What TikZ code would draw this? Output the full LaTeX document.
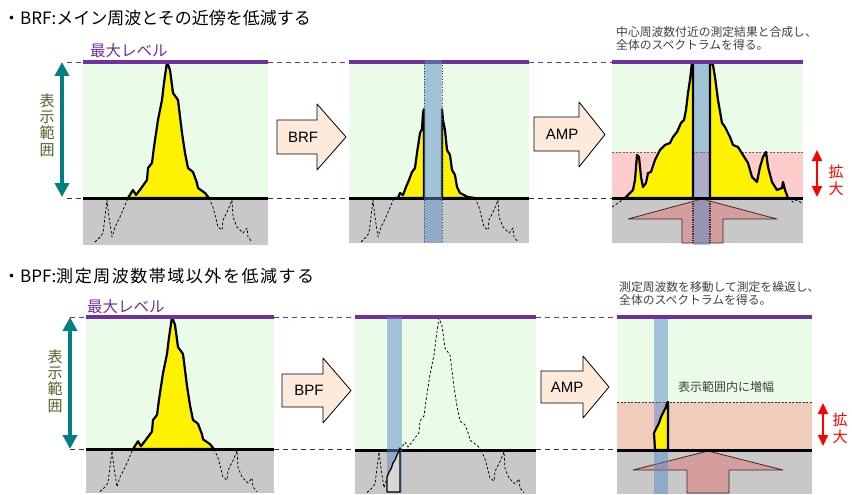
\documentclass[tikz,border=0pt]{standalone}
\usepackage{fontspec}
\setmainfont{Liberation Sans}
\newfontfamily\jp{Noto Sans CJK JP}
\usetikzlibrary{arrows.meta}

\definecolor{panelgreen}{RGB}{234,252,232}
\definecolor{floorgray}{RGB}{200,200,200}
\definecolor{ampink}{RGB}{255,204,204}
\definecolor{ampsalmon}{RGB}{240,204,188}
\definecolor{peach}{RGB}{253,234,218}
\definecolor{rose}{RGB}{212,158,158}
\definecolor{roseline}{RGB}{70,35,35}
\definecolor{bandblue}{RGB}{90,140,200}
\definecolor{maxpurple}{RGB}{112,48,160}
\definecolor{rangeteal}{RGB}{0,128,128}
\definecolor{rangegreen}{RGB}{79,98,40}
\definecolor{notegray}{RGB}{64,64,64}
\definecolor{dotdark}{RGB}{80,30,60}

\def\dashLeft{(12,44) -- (17,39) -- (20,35) -- (24,2) -- (26,19) -- (29,39) -- (32,29) -- (37,19) -- (40,12) -- (45,0)}
\def\dashRight{(126,0) -- (130,9) -- (135,29) -- (139,32) -- (140,22) -- (145,12) -- (149,2) -- (150,19) -- (154,29) -- (160,35) -- (164,30) -- (165,39) -- (169,44)}
\def\fullPeak{(45,0) -- (50,-8) -- (53,-3) -- (59,-11) -- (64,-18) -- (65,-30) -- (69,-35) -- (71,-51) -- (75,-78) -- (79,-98) -- (81,-115) -- (84,-136) -- (87,-128) -- (90,-105) -- (95,-98) -- (99,-65) -- (102,-45) -- (105,-30) -- (110,-26) -- (114,-15) -- (115,-10) -- (122,-5) -- (126,0)}

\tikzset{
  spec/.style={fill=yellow, draw=black, line width=2.2pt},
  under/.style={draw=black, dash pattern=on 2.5pt off 2pt, line width=0.75pt},
  baseline/.style={line width=3pt, black},
  maxline/.style={line width=4pt, maxpurple},
  guidemax/.style={maxpurple, line width=0.8pt, dash pattern=on 5pt off 4pt},
  guidebase/.style={black!80, line width=0.8pt, dash pattern=on 5pt off 4pt},
  band/.style={fill=bandblue, fill opacity=0.5, draw=none},
  bandedge/.style={black!75, line width=0.7pt, dotted},
  procarrow/.style={fill=peach, draw=black, line width=0.8pt},
  bigup/.style={fill=rose, draw=roseline, line width=0.8pt},
  proclabel/.style={font=\fontsize{15}{15}\selectfont, inner sep=0pt},
  maxlabel/.style={font=\jp\fontsize{15.5}{16}\selectfont, text=maxpurple, inner sep=0pt, anchor=west},
  rangelabel/.style={font=\jp\fontsize{15}{16.3}\selectfont, text=rangegreen, align=center, inner sep=0pt},
  zoomlabel/.style={font=\jp\fontsize{15}{17}\selectfont, text=red, align=center, inner sep=0pt},
  note/.style={font=\jp\fontsize{11.8}{13}\selectfont, text=notegray, align=left, inner sep=0pt, anchor=north west},
  titletext/.style={font=\jp\fontsize{17}{18}\selectfont, inner sep=0pt, anchor=west},
  rangearrow/.style={rangeteal, line width=3.5pt, {Triangle[width=14pt,length=14pt]}-{Triangle[width=14pt,length=14pt]}},
  zoomarrow/.style={red, line width=2pt, {Triangle[width=10pt,length=11pt]}-{Triangle[width=10pt,length=11pt]}},
  pinkedge/.style={black!60, line width=0.5pt, dash pattern=on 2pt off 1.5pt},
}

\begin{document}
\begin{tikzpicture}[x=1pt, y=-1pt, line join=round]
\useasboundingbox (0,0) rectangle (852,495);
\fill[white] (0,0) rectangle (852,495);

% ---------------- titles ----------------
\node[titletext] (title1) at (3,18) {・BRF:メイン周波とその近傍を低減する};
\node[titletext] (title2) at (3,276) {・BPF:\addfontfeature{LetterSpace=9}測定周波数帯域以外を低減する};

% ================= TOP ROW =================
\draw[guidemax] (67,62) -- (83,62);
\draw[guidemax] (268,62) -- (349,62);
\draw[guidemax] (529,62) -- (612,62);
\draw[guidebase] (67,198) -- (83,198);
\draw[guidebase] (268,198) -- (349,198);
\draw[guidebase] (529,198) -- (612,198);

% top-left panel
\begin{scope}[shift={(83,198)}]
  \fill[panelgreen] (0,-136) rectangle (185,0);
  \fill[floorgray] (0,0) rectangle (185,47);
  \draw[under] \dashLeft;
  \draw[under] \dashRight;
  \draw[spec] \fullPeak -- cycle;
  \draw[baseline] (0,0) -- (185,0);
  \draw[maxline] (0,-136) -- (185,-136);
\end{scope}
\node[maxlabel] (max1) at (90,51) {最大レベル};
\coordinate (r1top) at (62,62);
\coordinate (r1bot) at (62,197);
\draw[rangearrow] (r1top) -- (r1bot);
\node[rangelabel] (range1) at (47,125) {表\\示\\範\\囲};

% BRF arrow
\draw[procarrow] (277,120) -- (317,120) -- (317,104) -- (346,137) -- (317,170) -- (317,154) -- (277,154) -- cycle;
\node[proclabel] (brf) at (303,137) {BRF};

% top-middle panel
\begin{scope}[shift={(349,198)}]
  \fill[panelgreen] (0,-136) rectangle (180,0);
  \fill[floorgray] (0,0) rectangle (180,45);
  \draw[under] \dashLeft;
  \draw[under] \dashRight;
  \draw[spec] (45,0) -- (49,0) -- (51,-5) -- (54,-3) -- (57,-11) -- (60,-18) -- (63,-26) -- (66,-30) -- (68,-45) -- (71,-65) -- (73,-69) -- (74,-85) -- (75,-89) -- (75,0) -- cycle;
  \draw[spec] (93,0) -- (93,-89) -- (94,-78) -- (96,-68) -- (98,-48) -- (101,-43) -- (103,-28) -- (106,-23) -- (108,-11) -- (111,-5) -- (119,-1) -- (126,0) -- cycle;
  \draw[baseline] (0,0) -- (180,0);
  \draw[maxline] (0,-136) -- (180,-136);
\end{scope}
\fill[band] (424,60) rectangle (442,243);
\draw[bandedge] (424,60) -- (424,243);
\draw[bandedge] (442,60) -- (442,243);

% AMP arrow (top)
\draw[procarrow] (534,117) -- (579,117) -- (579,102) -- (605,134.5) -- (579,167) -- (579,151) -- (534,151) -- cycle;
\node[proclabel] (amp1) at (562,134.5) {AMP};

% top-right panel
\begin{scope}[shift={(612,198)}]
  \fill[panelgreen] (0,-136) rectangle (191,0);
  \fill[ampink] (0,-46) rectangle (191,0);
  \draw[pinkedge] (0,-46) -- (191,-46);
  \fill[floorgray] (0,0) rectangle (191,45);
\end{scope}
\draw[bigup] (702,199) -- (777,219) -- (723,219) -- (723,243) -- (682,243) -- (682,219) -- (628,219) -- cycle;
\fill[band] (693,60) rectangle (710,245);
\draw[dotdark, line width=1.3pt, densely dotted] (693,201) -- (693,243);
\draw[dotdark, line width=1.3pt, densely dotted] (710,201) -- (710,243);
\begin{scope}[shift={(612,198)}]
  \draw[spec] (13,0) -- (18,-5) -- (21,-8) -- (23,-18) -- (25,-43) -- (27,-41) -- (29,-21) -- (31,-11) -- (34,-15) -- (36,-25) -- (39,-26) -- (43,-38) -- (48,-48) -- (53,-53) -- (58,-55) -- (61,-61) -- (65,-66) -- (69,-75) -- (72,-78) -- (74,-88) -- (76,-105) -- (78,-118) -- (80,-136) -- (81,-136) -- (81,0) -- cycle;
  \draw[spec] (98,0) -- (98,-136) -- (101,-133) -- (103,-121) -- (106,-98) -- (110,-75) -- (113,-71) -- (118,-61) -- (121,-53) -- (126,-51) -- (131,-43) -- (136,-35) -- (140,-21) -- (145,-16) -- (148,-31) -- (151,-41) -- (154,-46) -- (156,-31) -- (160,-16) -- (165,-8) -- (170,-10) -- (171,-16) -- (173,-8) -- (176,0) -- cycle;
  \draw[under] (0,9) -- (6,5) -- (13,0);
  \draw[under] (176,0) -- (181,4) -- (185,2) -- (191,6);
  \draw[baseline] (0,0) -- (191,0);
  \draw[maxline] (0,-136) -- (191,-136);
\end{scope}
\node[note] (note1) at (616,26) {中心周波数付近の測定結果と合成し、\\全体のスペクトラムを得る。};
\coordinate (z1top) at (817,150);
\coordinate (z1bot) at (817,197);
\draw[zoomarrow] (z1top) -- (z1bot);
\node[zoomlabel] (zoom1) at (836,180) {拡\\大};

% ================= BOTTOM ROW =================
\draw[guidemax] (70,317) -- (86,317);
\draw[guidemax] (274,317) -- (355,317);
\draw[guidemax] (536,317) -- (617,317);
\draw[guidebase] (70,449.5) -- (86,449.5);
\draw[guidebase] (274,449.5) -- (355,449.5);
\draw[guidebase] (536,449.5) -- (617,449.5);

% bottom-left panel
\begin{scope}[shift={(86,449)}, yscale=0.97]
  \fill[panelgreen] (0,-136) rectangle (188,0);
  \fill[floorgray] (0,0) rectangle (188,45);
  \begin{scope}[xshift=2pt]
    \draw[under] \dashLeft;
    \draw[under] \dashRight;
    \draw[spec] \fullPeak -- cycle;
  \end{scope}
  \draw[baseline] (0,0) -- (188,0);
  \draw[maxline] (0,-136) -- (188,-136);
\end{scope}
\node[maxlabel] (max2) at (87,307) {最大レベル};
\coordinate (r2top) at (70,317);
\coordinate (r2bot) at (70,449);
\draw[rangearrow] (r2top) -- (r2bot);
\node[rangelabel] (range2) at (55,381) {表\\示\\範\\囲};

% BPF arrow
\draw[procarrow] (282,374) -- (323,374) -- (323,358) -- (351,390.5) -- (323,423) -- (323,407) -- (282,407) -- cycle;
\node[proclabel] (bpf) at (309,390.5) {BPF};

% bottom-middle panel
\begin{scope}[shift={(355,450)}, yscale=0.97]
  \fill[panelgreen] (0,-137) rectangle (181,0);
  \fill[floorgray] (0,0) rectangle (181,45);
  \draw[under] \dashLeft;
  \draw[under] \fullPeak;
  \draw[under] \dashRight;
  \draw[baseline] (0,0) -- (181,0);
  \draw[maxline] (0,-137) -- (181,-137);
\end{scope}
\fill[band] (387,317) rectangle (402,493);
\draw[fill={rgb,255:red,215;green,215;blue,218}, line width=1.3pt] (387,492) -- (387,477) -- (389,472) -- (391,469) -- (393,463) -- (395,460) -- (397,455) -- (399,451) -- (400,448) -- (400,492) -- cycle;

% AMP arrow (bottom)
\draw[procarrow] (541,371) -- (583,371) -- (583,356) -- (609,387) -- (583,418) -- (583,403) -- (541,403) -- cycle;
\node[proclabel] (amp2) at (567,387) {AMP};

% bottom-right panel
\begin{scope}[shift={(617,450)}]
  \fill[panelgreen] (0,-133) rectangle (195,0);
  \fill[ampsalmon] (0,-48) rectangle (195,0);
  \draw[pinkedge, black!80] (0,-48) -- (195,-48);
  \fill[floorgray] (0,0) rectangle (195,44);
\end{scope}
\draw[bigup] (708,451) -- (783,470) -- (729,470) -- (729,493) -- (687,493) -- (687,470) -- (633,470) -- cycle;
\fill[band] (654,317) rectangle (668,494);
\draw[spec] (655,450) -- (654,433) -- (657,427) -- (659,423) -- (661,417) -- (663,413) -- (666,407) -- (667,403) -- (668,402) -- (668,450) -- cycle;
\draw[baseline] (617,450) -- (812,450);
\draw[maxline] (617,317) -- (812,317);
\node[font=\jp\fontsize{12}{13}\selectfont, text=notegray, inner sep=0pt, anchor=west] (inrange) at (678,387) {表示範囲内に増幅};
\node[note] (note2) at (619,281) {測定周波数を移動して測定を繰返し、\\全体のスペクトラムを得る。};
\coordinate (z2top) at (823,403);
\coordinate (z2bot) at (823,446);
\draw[zoomarrow] (z2top) -- (z2bot);
\node[zoomlabel] (zoom2) at (840,428) {拡\\大};

\end{tikzpicture}
\end{document}
